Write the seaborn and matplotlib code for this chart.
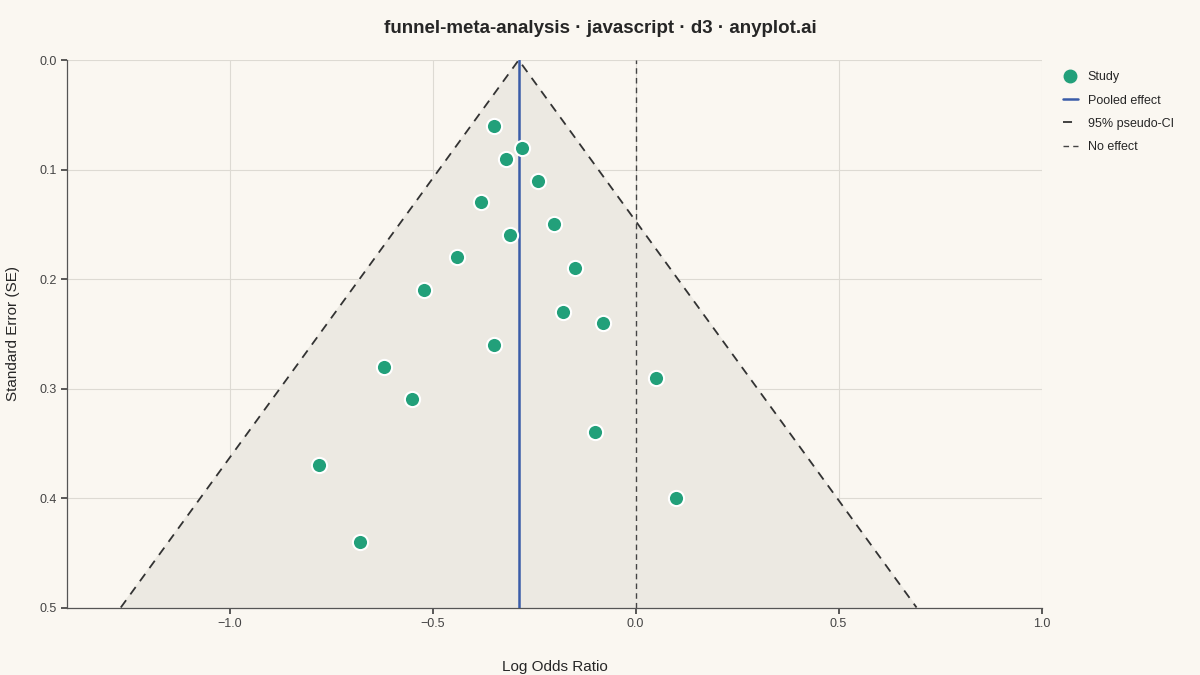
import matplotlib
matplotlib.use("Agg")
import matplotlib.pyplot as plt
from matplotlib.lines import Line2D
import numpy as np
import pandas as pd
import seaborn as sns

log_or = [-0.35, -0.28, -0.32, -0.24, -0.38, -0.20, -0.31, -0.44, -0.15, -0.52,
          -0.18, -0.08, -0.35, -0.62, 0.05, -0.55, -0.10, -0.78, 0.10, -0.68]
se = [0.06, 0.08, 0.09, 0.11, 0.13, 0.15, 0.16, 0.18, 0.19, 0.21,
      0.23, 0.24, 0.26, 0.28, 0.29, 0.31, 0.34, 0.37, 0.40, 0.44]
pooled = -0.288
se_max = 0.5
x_ticks = [-1.0, -0.5, 0.0, 0.5, 1.0]
y_ticks = [0.0, 0.1, 0.2, 0.3, 0.4, 0.5]

bg = "#faf7f1"
sns.set_theme(style="whitegrid")
plt.rcParams["font.family"] = ["Liberation Sans", "DejaVu Sans"]

df = pd.DataFrame({"log_or": log_or, "se": se})

fig, ax = plt.subplots(figsize=(12, 6.75), dpi=100)
fig.patch.set_facecolor(bg)
ax.set_facecolor(bg)

ci_x = [pooled - 1.96 * se_max, pooled, pooled + 1.96 * se_max]
ci_y = [se_max, 0, se_max]
ax.fill(ci_x, ci_y, color="#ece9e2", zorder=1)
ax.plot(ci_x, ci_y, color="#333333", ls=(0, (5, 4)), lw=1.3, zorder=2)
ax.axvline(0, color="#444444", ls=(0, (4, 3)), lw=1.0, zorder=2)
ax.axvline(pooled, color="#3a5ca8", lw=1.8, zorder=3)
sns.scatterplot(data=df, x="log_or", y="se", ax=ax, s=120, color="#22a07a",
                edgecolor="white", linewidth=1.5, zorder=4)

ax.set_xlim(-1.4, 1.0)
ax.set_ylim(0.5, 0.0)
ax.set_xticks(x_ticks)
ax.set_xticklabels(["\u22121.0", "\u22120.5", "0.0", "0.5", "1.0"])
ax.set_yticks(y_ticks)
ax.set_yticklabels([f"{v:.1f}" for v in y_ticks])
ax.grid(color="#dddad3", lw=0.8)
for s in ["top", "right"]:
    ax.spines[s].set_visible(False)
for s in ["left", "bottom"]:
    ax.spines[s].set_color("#555555")
    ax.spines[s].set_linewidth(0.9)
ax.tick_params(axis="both", colors="#444444", labelsize=9, length=4, direction="out",
               bottom=True, left=True)
ax.set_xlabel("Log Odds Ratio", fontsize=11, labelpad=22)
ax.set_ylabel("Standard Error (SE)", fontsize=11, labelpad=14)
fig.suptitle("funnel-meta-analysis \u00b7 javascript \u00b7 d3 \u00b7 anyplot.ai",
             fontsize=13.5, fontweight="bold", y=0.97)

handles = [
    Line2D([], [], marker="o", ls="", color="#22a07a", markersize=9),
    Line2D([], [], color="#3a5ca8", lw=1.8),
    Line2D([], [], color="#333333", ls=(0, (5, 4)), lw=1.3),
    Line2D([], [], color="#444444", ls=(0, (4, 3)), lw=1.0),
]
ax.legend(handles, ["Study", "Pooled effect", "95% pseudo-CI", "No effect"],
          loc="upper left", bbox_to_anchor=(1.01, 1.0), frameon=False,
          fontsize=9, handlelength=1.2, labelspacing=0.9)

fig.subplots_adjust(left=0.056, right=0.868, top=0.911, bottom=0.1)
fig.savefig("out.png", facecolor=bg)
